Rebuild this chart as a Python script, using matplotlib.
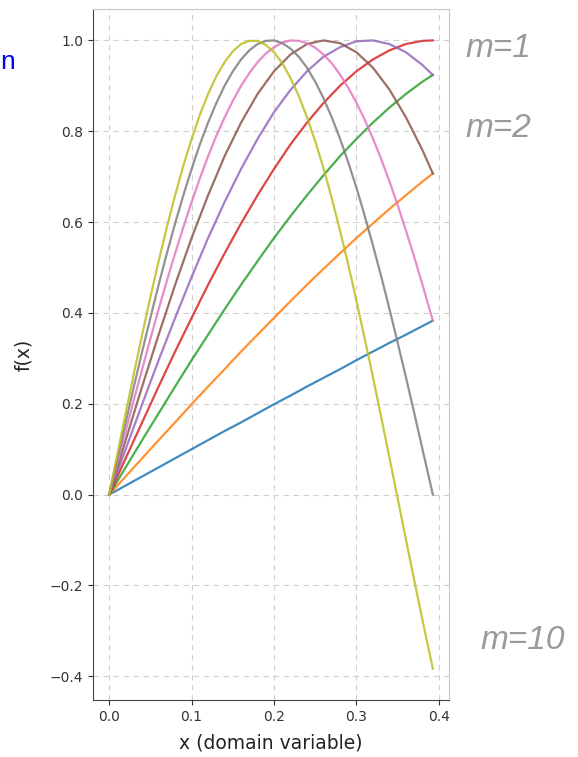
import numpy as np
import matplotlib
matplotlib.use("Agg")
import matplotlib.pyplot as plt

# sample positions along x (0 .. pi/8), coarse and fine grids
x = [0.0, 0.02, 0.04, 0.06, 0.08, 0.10, 0.12, 0.14, 0.16, 0.18, 0.20,
     0.22, 0.24, 0.26, 0.28, 0.30, 0.32, 0.34, 0.36, 0.38, 0.3927]
x_fine = [0.00, 0.01, 0.02, 0.03, 0.04, 0.05, 0.06, 0.07, 0.08, 0.09,
          0.10, 0.11, 0.12, 0.13, 0.14, 0.15, 0.16, 0.17, 0.18, 0.19,
          0.20, 0.21, 0.22, 0.23, 0.24, 0.25, 0.26, 0.27, 0.28, 0.29,
          0.30, 0.31, 0.32, 0.33, 0.34, 0.35, 0.36, 0.37, 0.38, 0.39, 0.3927]

# values (m = 1 .. 9)
f_m1 = [0, .020, .040, .060, .080, .100, .120, .140, .159, .179, .199,
        .218, .238, .257, .276, .296, .315, .334, .352, .371, .383]
f_m2 = [0, .040, .080, .120, .159, .199, .238, .276, .315, .352, .389,
        .426, .462, .497, .531, .565, .597, .629, .659, .689, .707]
f_m3 = [0, .060, .120, .179, .238, .296, .352, .408, .462, .514, .565,
        .613, .659, .703, .745, .783, .819, .852, .882, .909, .924]
f_m4 = [0, .080, .159, .238, .315, .389, .462, .531, .597, .659, .717,
        .771, .819, .862, .900, .932, .958, .978, .992, .999, 1.0]
f_m5 = [0, .100, .199, .296, .389, .479, .565, .644, .717, .783, .842,
        .891, .932, .964, .985, .998, 1.0, .992, .974, .946, .924]
f_m6 = [0, .120, .238, .352, .462, .565, .659, .745, .819, .882, .932,
        .969, .992, 1.0, .994, .974, .940, .892, .831, .759, .707]
f_m7 = [0, .070, .140, .209, .276, .343, .408, .471, .531, .589, .644,
        .696, .745, .790, .830, .867, .900, .928, .952, .971, .985,
        .995, 1.0, .999, .994, .984, .969, .950, .925, .896, .863,
        .826, .784, .739, .690, .638, .582, .524, .463, .400, .383]
f_m8 = [0, .080, .159, .238, .315, .389, .462, .531, .597, .659, .717,
        .771, .819, .862, .900, .932, .958, .978, .992, .999, 1.0,
        .994, .982, .964, .940, .909, .873, .831, .784, .732, .676,
        .614, .549, .481, .409, .335, .259, .181, .101, .022, 0]
f_m9 = [0, .090, .179, .267, .352, .435, .514, .589, .659, .724, .783,
        .836, .882, .921, .952, .976, .992, .999, .999, .990, .974,
        .950, .917, .878, .831, .778, .719, .653, .582, .507, .427,
        .344, .259, .171, .082, -.008, -.098, -.187, -.275, -.360, -.383]

series = [(x, f_m1), (x, f_m2), (x, f_m3), (x, f_m4), (x, f_m5),
          (x, f_m6), (x_fine, f_m7), (x_fine, f_m8), (x_fine, f_m9)]

fig = plt.figure(figsize=(5.78, 7.57), dpi=100)
ax = fig.add_axes([93 / 578, 1 - 700 / 757, 356 / 578, 691 / 757])

for xs, ys in series:
    ax.plot(xs, ys, lw=1.6, alpha=0.85)

ax.grid(True, ls=(0, (5, 4)), color='#d0d0d0', lw=0.8)
ax.set_xticks([0.0, 0.1, 0.2, 0.3, 0.4])
ax.set_yticks([-0.4, -0.2, 0.0, 0.2, 0.4, 0.6, 0.8, 1.0])
ax.tick_params(labelsize=10, colors='#333333')
ax.set_xlabel('x (domain variable)', fontsize=13.5, color='#222222', labelpad=7)
ax.set_ylabel('f(x)', fontsize=13.5, color='#222222', labelpad=12)
for s in ['top', 'right']:
    ax.spines[s].set_color('#c8c8c8')
for s in ['left', 'bottom']:
    ax.spines[s].set_color('#444444')

# notes around the plot
lbl = dict(fontsize=24, fontstyle='italic', color='#9a9a9a',
           family='Liberation Sans', ha='left', va='baseline')
fig.text(465 / 578, 1 - 57 / 757, 'm=1', **lbl)
fig.text(465 / 578, 1 - 137 / 757, 'm=2', **lbl)
fig.text(480 / 578, 1 - 649 / 757, 'm=10', **lbl)
fig.text(0.5 / 578, 1 - 69 / 757, 'n', color='blue', fontsize=19,
         family='Liberation Sans', ha='left', va='baseline')

fig.savefig('out.png', dpi=100)
